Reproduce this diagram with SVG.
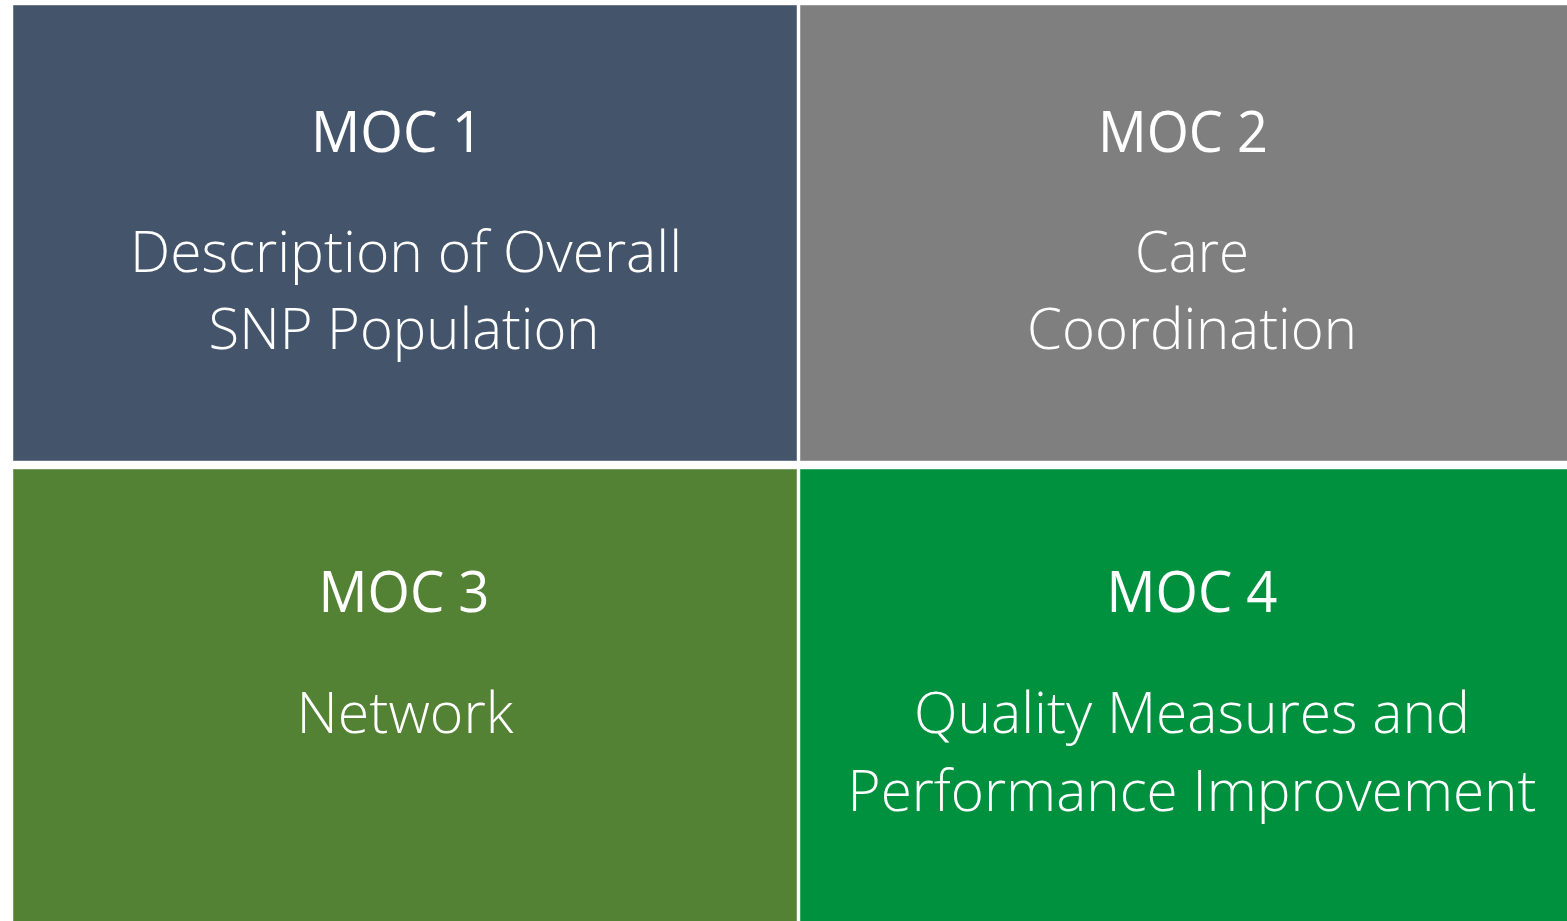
<svg xmlns="http://www.w3.org/2000/svg" width="1567" height="921" viewBox="0 0 1567 921">
<style>
.box{stroke:#ffffff;stroke-opacity:0.45;stroke-width:1}
.t{font-family:"Open Sans","Liberation Sans",sans-serif;fill:#ffffff;text-anchor:middle;font-size:57px}
.h{font-weight:400}
.b{font-weight:300}
</style>
<rect x="0" y="0" width="1567" height="921" fill="#ffffff"/>
<g id="moc1">
<rect class="box" x="13" y="5" width="784" height="456" fill="#44546A"/>
<text class="t h" x="397" y="152" textLength="172" lengthAdjust="spacingAndGlyphs">MOC 1</text>
<text class="t b" x="406" y="272" textLength="552" lengthAdjust="spacingAndGlyphs">Description of Overall</text>
<text class="t b" x="404" y="349" textLength="391" lengthAdjust="spacingAndGlyphs">SNP Population</text>
</g>
<g id="moc2">
<rect class="box" x="800" y="5" width="768" height="456" fill="#7F7F7F"/>
<text class="t h" x="1183" y="152" textLength="170" lengthAdjust="spacingAndGlyphs">MOC 2</text>
<text class="t b" x="1192" y="272" textLength="114" lengthAdjust="spacingAndGlyphs">Care</text>
<text class="t b" x="1192" y="349" textLength="330" lengthAdjust="spacingAndGlyphs">Coordination</text>
</g>
<g id="moc3">
<rect class="box" x="13" y="469" width="784" height="453" fill="#548235"/>
<text class="t h" x="404" y="612" textLength="171" lengthAdjust="spacingAndGlyphs">MOC 3</text>
<text class="t b" x="405" y="733" textLength="217" lengthAdjust="spacingAndGlyphs">Network</text>
</g>
<g id="moc4">
<rect class="box" x="800" y="469" width="768" height="453" fill="#00913F"/>
<text class="t h" x="1192" y="612" textLength="171" lengthAdjust="spacingAndGlyphs">MOC 4</text>
<text class="t b" x="1192" y="733" textLength="556" lengthAdjust="spacingAndGlyphs">Quality Measures and</text>
<text class="t b" x="1192" y="811" textLength="689" lengthAdjust="spacingAndGlyphs">Performance Improvement</text>
</g>
<g id="connectors"></g>
</svg>
